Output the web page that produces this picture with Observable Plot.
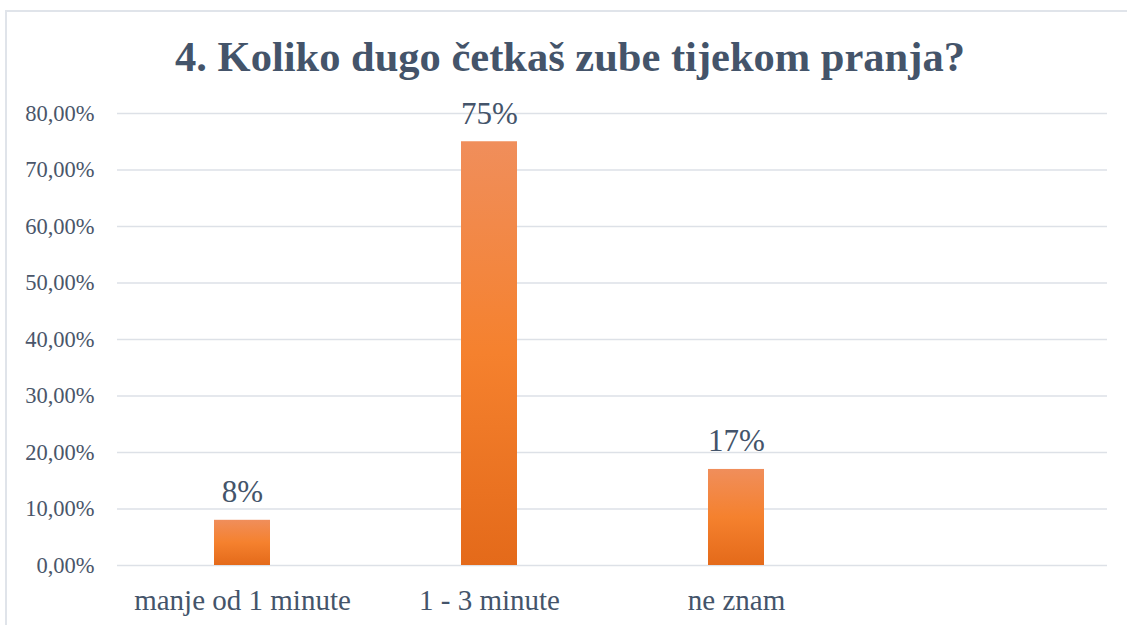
<!DOCTYPE html>
<html>
<head>
<meta charset="utf-8">
<script src="https://cdn.jsdelivr.net/npm/d3@7"></script>
<script src="https://cdn.jsdelivr.net/npm/@observablehq/plot@0.6"></script>
<style>
  html, body { margin: 0; padding: 0; background: #fff; width: 1127px; height: 625px; overflow: hidden; }
  #frame { position: absolute; left: 5px; top: 10px; width: 1140px; height: 640px; border: 2px solid #e0e4ea; box-sizing: border-box; }
  #title { position: absolute; left: 0; width: 1140px; top: 32px; text-align: center; font-family: 'Liberation Serif', 'Tinos', serif; font-weight: bold; font-size: 42.5px; line-height: 50px; color: #44546a; margin: 0; white-space: nowrap; }
  #chart { position: absolute; left: 0; top: 90px; }
  #chart svg text { font-family: 'Liberation Serif', 'Tinos', serif; }
</style>
</head>
<body>
<div id="frame"></div>
<div id="title">4. Koliko dugo četkaš zube tijekom pranja?</div>
<div id="chart"></div>
<script>
const categories = ["manje od 1 minute", "1 - 3 minute", "ne znam"];
const values = [8, 75, 17];
const valueLabels = ["8%", "75%", "17%"];
const xDomain = [...categories, ""];
const yTicks = [0, 10, 20, 30, 40, 50, 60, 70, 80];
const yTickLabels = ["0,00%", "10,00%", "20,00%", "30,00%", "40,00%", "50,00%", "60,00%", "70,00%", "80,00%"];

const data = categories.map((c, i) => ({category: c, value: values[i], label: valueLabels[i]}));
const textColor = "#44546a";
const font = "'Liberation Serif', 'Tinos', serif";

const plot = Plot.plot({
  width: 1127,
  height: 535,
  marginTop: 23,
  marginBottom: 60,
  marginLeft: 117,
  marginRight: 20,
  style: {fontFamily: font, color: textColor, background: "transparent", overflow: "visible"},
  x: {domain: xDomain, paddingInner: 0.774, paddingOuter: 0.387, label: null},
  y: {domain: [0, 80], label: null},
  marks: [
    Plot.ruleY(yTicks, {stroke: "#dde1e7", strokeWidth: 1.6}),
    Plot.axisY({ticks: yTicks, tickFormat: (d) => yTickLabels[yTicks.indexOf(d)], tickSize: 0, tickPadding: 23, fontSize: 22.5, fill: "#4a566a", label: null}),
    Plot.axisX({tickSize: 0, tickPadding: 24, fontSize: 29, fill: textColor, label: null, tickFormat: (d) => d}),
    Plot.barY(data, {x: "category", y: "value", fill: "url(#barGrad)"}),
    Plot.text(data, {x: "category", y: "value", text: "label", lineAnchor: "bottom", dy: -18, fontSize: 31, fill: textColor})
  ]
});

const ns = "http://www.w3.org/2000/svg";
const defs = document.createElementNS(ns, "defs");
const grad = document.createElementNS(ns, "linearGradient");
grad.setAttribute("id", "barGrad");
grad.setAttribute("x1", "0"); grad.setAttribute("y1", "0");
grad.setAttribute("x2", "0"); grad.setAttribute("y2", "1");
[["0", "#f08e5b"], ["0.5", "#f5812e"], ["1", "#e46a1a"]].forEach(([o, c]) => {
  const s = document.createElementNS(ns, "stop");
  s.setAttribute("offset", o);
  s.setAttribute("stop-color", c);
  grad.appendChild(s);
});
defs.appendChild(grad);
plot.insertBefore(defs, plot.firstChild);
document.getElementById("chart").appendChild(plot);
</script>
</body>
</html>
